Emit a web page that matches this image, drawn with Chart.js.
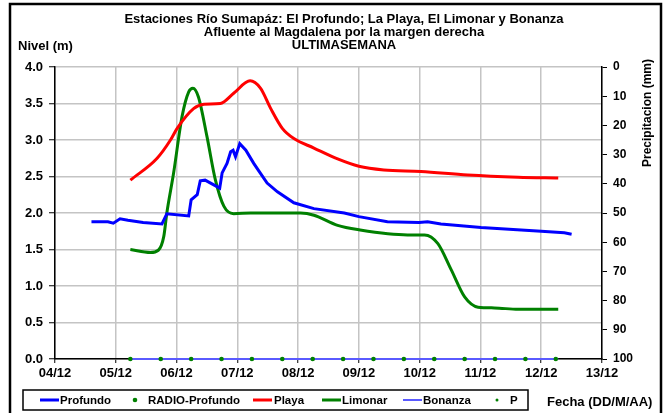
<!DOCTYPE html>
<html>
<head>
<meta charset="utf-8">
<title>Estaciones Río Sumapáz</title>
<script src="https://cdn.jsdelivr.net/npm/chart.js@4.4.1/dist/chart.umd.min.js"></script>
<style>
  html, body { margin: 0; padding: 0; background: #fff; }
  canvas { display: block; }
</style>
</head>
<body>
<canvas id="nivelChart" width="666" height="413"></canvas>
<script>
// tick labels for the date axis (day of December)
const dayLabels = ['04/12', '05/12', '06/12', '07/12', '08/12', '09/12', '10/12', '11/12', '12/12', '13/12'];

// El Profundo (m)
const profundoDay = [4.6, 4.87, 4.96, 5.07, 5.2, 5.45, 5.76, 5.84, 6.2, 6.24, 6.34, 6.39, 6.47, 6.71, 6.75, 6.83, 6.89, 6.93, 6.97, 7.04, 7.14, 7.27, 7.35, 7.49, 7.66, 7.93, 8.26, 8.76, 9.0, 9.47, 9.99, 10.13, 10.35, 11.01, 12.0, 12.38, 12.5];
const profundoVal = [1.88, 1.88, 1.86, 1.92, 1.90, 1.87, 1.85, 1.99, 1.96, 2.18, 2.25, 2.44, 2.45, 2.34, 2.55, 2.68, 2.84, 2.86, 2.77, 2.95, 2.86, 2.68, 2.58, 2.41, 2.29, 2.14, 2.06, 2.0, 1.95, 1.88, 1.87, 1.88, 1.85, 1.80, 1.75, 1.73, 1.71];

// La Playa (m)
const playaDay = [5.24, 5.68, 5.9, 6.01, 6.28, 6.45, 6.72, 6.94, 7.21, 7.38, 7.55, 7.74, 7.93, 8.26, 8.65, 9.0, 9.41, 10.02, 10.79, 11.62, 12.28];
const playaVal = [2.45, 2.75, 3.0, 3.16, 3.43, 3.49, 3.50, 3.64, 3.81, 3.71, 3.43, 3.16, 3.02, 2.89, 2.74, 2.64, 2.59, 2.57, 2.52, 2.49, 2.48];

// El Limonar (m)
const limonarDay = [5.24, 5.57, 5.70, 5.79, 5.84, 5.95, 6.09, 6.2, 6.27, 6.36, 6.5, 6.64, 6.78, 6.94, 7.22, 8.04, 8.26, 8.65, 9.0, 9.8, 10.08, 10.3, 10.52, 10.74, 10.96, 11.23, 11.62, 12.28];
const limonarVal = [1.50, 1.46, 1.49, 1.68, 2.0, 2.54, 3.32, 3.66, 3.71, 3.59, 3.05, 2.45, 2.09, 1.99, 2.0, 2.0, 1.97, 1.83, 1.77, 1.70, 1.70, 1.58, 1.22, 0.85, 0.71, 0.70, 0.68, 0.68];

// Bonanza (m)
const bonanzaDay = [5.24, 12.28];
const bonanzaVal = [0, 0];

// RADIO-Profundo readings
const radioDay = [5.24, 5.74, 6.24, 6.74, 7.24, 7.74, 8.24, 8.74, 9.24, 9.74, 10.24, 10.74, 11.24, 11.74, 12.24];
const radioVal = [0, 0, 0, 0, 0, 0, 0, 0, 0, 0, 0, 0, 0, 0, 0];

// P - precipitacion (mm), nothing registered
const pDay = [];
const pVal = [];

const FONT = '"Liberation Sans", Arial, sans-serif';

function toPoints(xs, ys) {
    return xs.map((x, i) => ({ x: x, y: ys[i] }));
}

// titles, frame and legend drawn on top of the chart
const decor = {
    id: 'decor',
    afterDraw(chart) {
        const ctx = chart.ctx;
        ctx.save();

        // outer frame
        ctx.strokeStyle = '#000';
        ctx.lineWidth = 2.5;
        ctx.strokeRect(10, 4, 651, 430);

        ctx.fillStyle = '#000';
        ctx.textBaseline = 'middle';
        ctx.textAlign = 'center';
        ctx.font = 'bold 13px ' + FONT;
        ctx.fillText('Estaciones Río Sumapáz: El Profundo; La Playa, El Limonar y Bonanza', 344, 19);
        ctx.fillText('Afluente al Magdalena por la margen derecha', 344, 32);
        ctx.fillText('ULTIMASEMANA', 344, 45.5);

        ctx.textAlign = 'left';
        ctx.fillText('Nivel (m)', 18, 46);
        ctx.fillText('Fecha (DD/M/AA)', 547, 402);

        // right axis title
        ctx.save();
        ctx.translate(648, 113);
        ctx.rotate(-Math.PI / 2);
        ctx.textAlign = 'center';
        ctx.font = 'bold 12px ' + FONT;
        ctx.fillText('Precipitacion (mm)', 0, 0);
        ctx.restore();

        // legend box
        ctx.lineWidth = 1.5;
        ctx.strokeRect(23, 390, 505, 20);

        const ly = 400;
        const items = [
            { ds: 0, x: 40, tx: 60, kind: 'line' },
            { ds: 1, x: 135, tx: 148, kind: 'dot' },
            { ds: 2, x: 253, tx: 274, kind: 'line' },
            { ds: 3, x: 322, tx: 342, kind: 'line' },
            { ds: 4, x: 403, tx: 423, kind: 'line' },
            { ds: 5, x: 497, tx: 510, kind: 'dot' }
        ];
        ctx.font = 'bold 11.5px ' + FONT;
        items.forEach(it => {
            const d = chart.data.datasets[it.ds];
            if (it.kind === 'line') {
                ctx.strokeStyle = d.borderColor;
                ctx.lineWidth = d.borderWidth;
                ctx.beginPath();
                ctx.moveTo(it.x, ly);
                ctx.lineTo(it.x + 19, ly);
                ctx.stroke();
            } else {
                ctx.fillStyle = d.pointBackgroundColor;
                ctx.beginPath();
                ctx.arc(it.x, ly, d.pointRadius, 0, Math.PI * 2);
                ctx.fill();
            }
            ctx.fillStyle = '#000';
            ctx.fillText(d.label, it.tx, ly + 0.5);
        });

        ctx.restore();
    }
};

const ctx = document.getElementById('nivelChart').getContext('2d');
const chart = new Chart(ctx, {
    type: 'line',
    data: {
        datasets: [{
            label: 'Profundo',
            data: toPoints(profundoDay, profundoVal),
            borderColor: '#0000ff',
            borderWidth: 3,
            pointRadius: 0,
            tension: 0,
            yAxisID: 'y'
        }, {
            label: 'RADIO-Profundo',
            data: toPoints(radioDay, radioVal),
            showLine: false,
            pointRadius: 2.3,
            pointBackgroundColor: '#008000',
            pointBorderWidth: 0,
            borderColor: '#008000',
            clip: 5,
            yAxisID: 'y',
            order: -1
        }, {
            label: 'Playa',
            data: toPoints(playaDay, playaVal),
            borderColor: '#ff0000',
            borderWidth: 3,
            pointRadius: 0,
            cubicInterpolationMode: 'monotone',
            yAxisID: 'y'
        }, {
            label: 'Limonar',
            data: toPoints(limonarDay, limonarVal),
            borderColor: '#008000',
            borderWidth: 3,
            pointRadius: 0,
            cubicInterpolationMode: 'monotone',
            yAxisID: 'y'
        }, {
            label: 'Bonanza',
            data: toPoints(bonanzaDay, bonanzaVal),
            borderColor: '#5a5aff',
            borderWidth: 2,
            pointRadius: 0,
            clip: 5,
            yAxisID: 'y'
        }, {
            label: 'P',
            data: toPoints(pDay, pVal),
            showLine: false,
            pointRadius: 1.5,
            pointBackgroundColor: '#008000',
            borderColor: '#008000',
            yAxisID: 'y2'
        }]
    },
    options: {
        responsive: false,
        animation: false,
        devicePixelRatio: 1,
        layout: { padding: { top: 67, left: 0, right: 0, bottom: 0 } },
        plugins: {
            legend: { display: false },
            title: { display: false },
            tooltip: { enabled: false }
        },
        scales: {
            x: {
                type: 'linear',
                min: 4,
                max: 13,
                afterFit: s => { s.height = 54; },
                afterBuildTicks: s => { s.ticks = dayLabels.map((l, i) => ({ value: 4 + i })); },
                ticks: {
                    stepSize: 1,
                    autoSkip: false,
                    maxRotation: 0,
                    padding: 3,
                    color: '#000',
                    font: { family: FONT, size: 13, weight: 'bold' },
                    callback: v => dayLabels[v - 4]
                },
                grid: { color: '#c4c4c4', lineWidth: 1.5, tickColor: '#000', tickLength: 4, tickWidth: 1 },
                border: { color: '#000', width: 1.5 }
            },
            y: {
                position: 'left',
                min: 0,
                max: 4,
                afterFit: s => { s.width = 55; },
                ticks: {
                    stepSize: 0.5,
                    padding: 6,
                    color: '#000',
                    font: { family: FONT, size: 13, weight: 'bold' },
                    callback: v => v.toFixed(1)
                },
                grid: { color: '#c4c4c4', lineWidth: 1.5, tickColor: '#000', tickLength: 6, tickWidth: 1 },
                border: { color: '#000', width: 1.5 }
            },
            y2: {
                position: 'right',
                min: 0,
                max: 100,
                reverse: true,
                afterFit: s => { s.width = 64; },
                ticks: {
                    stepSize: 10,
                    padding: 6,
                    color: '#000',
                    font: { family: FONT, size: 12, weight: 'bold' }
                },
                grid: { drawOnChartArea: false, tickColor: '#000', tickLength: 5, tickWidth: 1 },
                border: { color: '#000', width: 1.5 }
            }
        }
    },
    plugins: [decor]
});
</script>
</body>
</html>
